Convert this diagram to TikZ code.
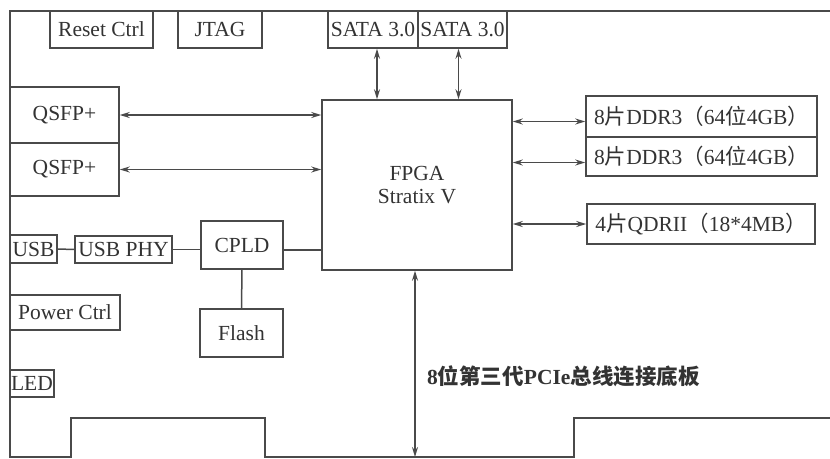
\documentclass[tikz,border=0pt]{standalone}
\usepackage{fontspec}
\setmainfont{Liberation Serif}
\newfontfamily\cjk{Noto Sans CJK SC}
\usetikzlibrary{arrows.meta}
\definecolor{ink}{HTML}{4A4A4A}
\definecolor{txt}{HTML}{333333}

\begin{document}
\begin{tikzpicture}[x=1pt, y=-1pt,
    blk/.style={draw=ink, line width=1.5pt, inner sep=0pt, text=txt,
        font=\fontsize{21.5}{25}\selectfont, align=center},
    wire/.style={draw=ink, line width=1.5pt},
    link/.style={wire, {Stealth[length=10pt,width=6pt]}-{Stealth[length=10pt,width=6pt]}}
]
\useasboundingbox (0,0) rectangle (830,458);
\fill[white] (0,0) rectangle (830,458);
\coordinate (bot) at (415,457);
\draw[wire] (830,11) -- (10,11) -- (10,457) -- (71,457) -- (71,418)
    -- (265,418) -- (265,457) -- (574,457) -- (574,418) -- (830,418);
\node[blk, minimum width=103, minimum height=37] (reset) at (101.5,29.5) {Reset Ctrl};
\node[blk, minimum width=84, minimum height=37] (jtag) at (220,29.5) {JTAG};
\node[blk, minimum width=90, minimum height=37] (sataA) at (373,29.5) {SATA 3.0};
\node[blk, minimum width=89, minimum height=37] (sataB) at (462.5,29.5) {SATA 3.0};
\node[blk, minimum width=190, minimum height=170] (fpga) at (417,185) {FPGA\\[-2pt]Stratix V};
\node[blk, minimum width=109, minimum height=56] (qsfpA) at (64.5,115) {QSFP+};
\node[blk, minimum width=109, minimum height=53] (qsfpB) at (64.5,169.5) {QSFP+};
\node[blk, minimum width=231, minimum height=41] (ddrA) at (701.5,116.5)
    {8{\cjk 片}DDR3{\cjk （}64{\cjk 位}4GB{\cjk ）}};
\node[blk, minimum width=231, minimum height=39] (ddrB) at (701.5,156.5)
    {8{\cjk 片}DDR3{\cjk （}64{\cjk 位}4GB{\cjk ）}};
\node[blk, minimum width=228, minimum height=40] (qdr) at (701,224)
    {4{\cjk 片}QDRII{\cjk （}18*4MB{\cjk ）}};
\node[blk, minimum width=47, minimum height=28] (usb) at (33.5,249) {USB};
\node[blk, minimum width=97, minimum height=27] (usbphy) at (123.5,249.5) {USB PHY};
\node[blk, minimum width=82, minimum height=48] (cpld) at (242,245) {CPLD};
\node[blk, minimum width=83, minimum height=48] (flash) at (241.5,333) {Flash};
\node[blk, minimum width=110, minimum height=35] (power) at (65,312.5) {Power Ctrl};
\node[blk, minimum width=44, minimum height=27] (led) at (32,383.5) {LED};
\node[anchor=west, text=txt, inner sep=0pt, font=\fontsize{21.5}{25}\selectfont\bfseries] (pcie) at (427,376)
    {8{\cjk 位第三代}PCIe{\cjk 总线连接底板}};
\draw[link] ([xshift=4pt]sataA.south) -- ([xshift=4pt]sataA.south |- fpga.north);
\draw[link] ([xshift=-4pt]sataB.south) -- ([xshift=-4pt]sataB.south |- fpga.north);
\draw[link] (qsfpA.east) -- (qsfpA.east -| fpga.west);
\draw[link] (qsfpB.east) -- (qsfpB.east -| fpga.west);
\draw[link] ([yshift=-5pt]ddrA.west -| fpga.east) -- ([yshift=-5pt]ddrA.west);
\draw[link] ([yshift=-6pt]ddrB.west -| fpga.east) -- ([yshift=-6pt]ddrB.west);
\draw[link] (qdr.west -| fpga.east) -- (qdr.west);
\draw[link] ([xshift=-2pt]fpga.south) -- ([xshift=-2pt]fpga.south |- bot);
\draw[wire] (usb.east) -- (usbphy.west);
\draw[wire] (usbphy.east) -- (usbphy.east -| cpld.west);
\draw[wire] ([yshift=-5pt]cpld.east) -- ([yshift=-5pt]cpld.east -| fpga.west);
\draw[wire] (cpld.south) -- (flash.north);
\end{tikzpicture}
\end{document}
